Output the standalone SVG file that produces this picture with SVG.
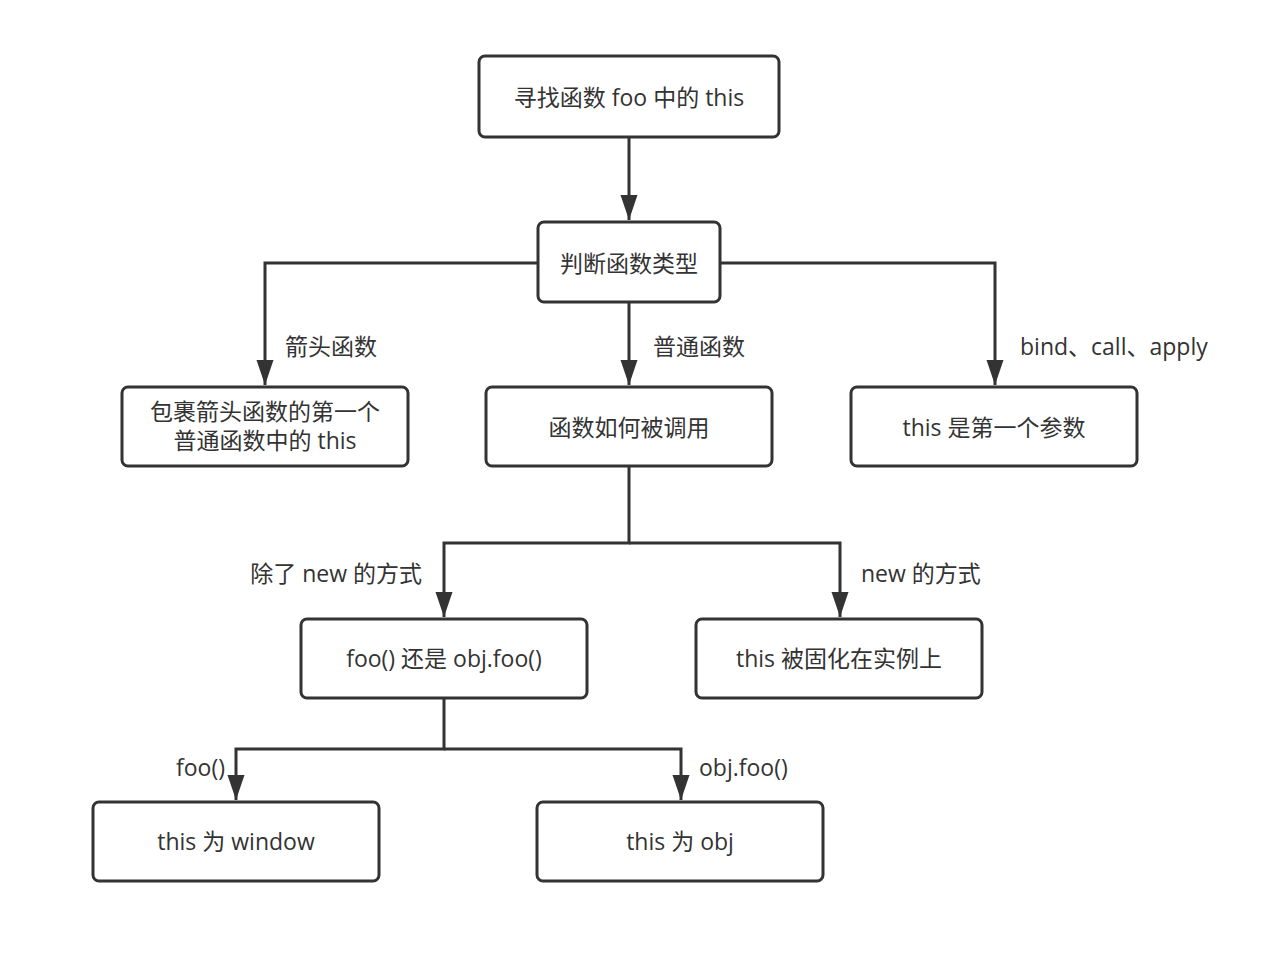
<svg xmlns="http://www.w3.org/2000/svg" width="1270" height="954" viewBox="0 0 1270 954">
<style>
.box{fill:#fff;stroke:#333;stroke-width:3}
.t{font-family:"Open Sans","Noto Sans CJK SC",sans-serif;font-size:23px;fill:#333;dominant-baseline:central}
.c{text-anchor:middle}
.e{text-anchor:end}
.ln{fill:none;stroke:#333;stroke-width:3}
</style>
<defs>
<marker id="a" markerUnits="userSpaceOnUse" markerWidth="26" markerHeight="20" viewBox="0 0 26 20" refX="25" refY="10" orient="auto">
<path d="M0,1.5 L25,10 L0,18.5 Z" fill="#333"/>
</marker>
</defs>
<rect width="1270" height="954" fill="#fff"/>
<g id="connectors">
<path class="ln" d="M629,137 V220" marker-end="url(#a)"/>
<path class="ln" d="M538,263 H265 V385" marker-end="url(#a)"/>
<path class="ln" d="M629,302 V385" marker-end="url(#a)"/>
<path class="ln" d="M720,263 H995 V385" marker-end="url(#a)"/>
<path class="ln" d="M629,466 V543 H444 V617" marker-end="url(#a)"/>
<path class="ln" d="M629,543 H840 V617" marker-end="url(#a)"/>
<path class="ln" d="M444,698 V749 H236 V800" marker-end="url(#a)"/>
<path class="ln" d="M444,749 H681 V800" marker-end="url(#a)"/>
<text class="t" x="285" y="346">箭头函数</text>
<text class="t" x="653" y="346">普通函数</text>
<text class="t" x="1020" y="346">bind、call、apply</text>
<text class="t e" x="422" y="573">除了 new 的方式</text>
<text class="t" x="861" y="573">new 的方式</text>
<text class="t e" x="225" y="767">foo()</text>
<text class="t" x="699" y="767">obj.foo()</text>
</g>
<g id="n1"><rect class="box" x="479" y="56" width="300" height="81" rx="6"/><text class="t c" x="629" y="97">寻找函数 foo 中的 this</text></g>
<g id="n2"><rect class="box" x="538" y="222" width="182" height="80" rx="6"/><text class="t c" x="629" y="263">判断函数类型</text></g>
<g id="n3"><rect class="box" x="122" y="387" width="286" height="79" rx="6"/><text class="t c" x="265" y="411">包裹箭头函数的第一个</text><text class="t c" x="265" y="440">普通函数中的 this</text></g>
<g id="n4"><rect class="box" x="486" y="387" width="286" height="79" rx="6"/><text class="t c" x="629" y="427">函数如何被调用</text></g>
<g id="n5"><rect class="box" x="851" y="387" width="286" height="79" rx="6"/><text class="t c" x="994" y="427">this 是第一个参数</text></g>
<g id="n6"><rect class="box" x="301" y="619" width="286" height="79" rx="6"/><text class="t c" x="444" y="658">foo() 还是 obj.foo()</text></g>
<g id="n7"><rect class="box" x="696" y="619" width="286" height="79" rx="6"/><text class="t c" x="839" y="658">this 被固化在实例上</text></g>
<g id="n8"><rect class="box" x="93" y="802" width="286" height="79" rx="6"/><text class="t c" x="236" y="841">this 为 window</text></g>
<g id="n9"><rect class="box" x="537" y="802" width="286" height="79" rx="6"/><text class="t c" x="680" y="841">this 为 obj</text></g>
</svg>
